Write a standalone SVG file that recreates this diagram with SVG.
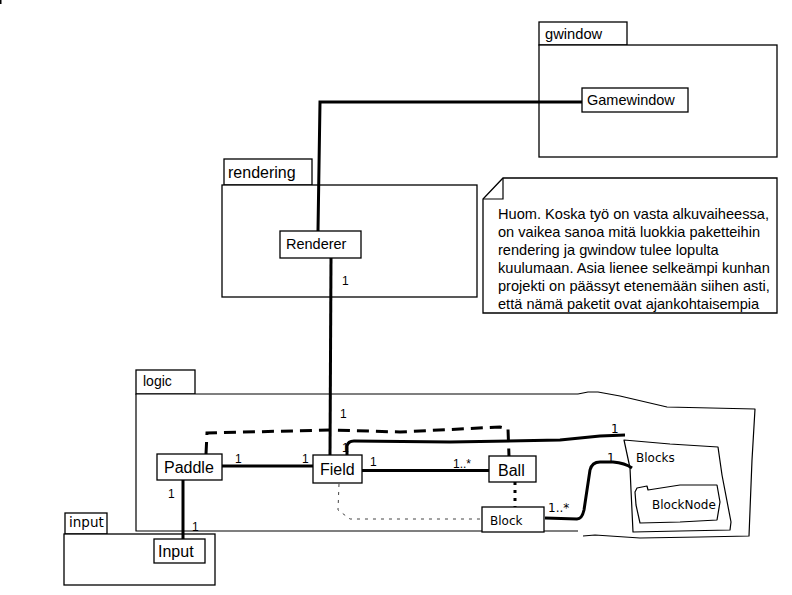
<svg xmlns="http://www.w3.org/2000/svg" width="792" height="595" viewBox="0 0 792 595">
<style>
.pk{fill:#fff;stroke:#000;stroke-width:1.3}
.cls{fill:#fff;stroke:#000;stroke-width:1.3}
.t{font-family:"Liberation Sans",Arial,sans-serif;fill:#000}
.d{font-family:"DejaVu Sans",sans-serif;fill:#000}
.cn{font-size:16px}
.m{font-size:12px}
.ln{fill:none;stroke:#000;stroke-width:3}
.hd{fill:none;stroke:#000;stroke-width:1.2;stroke-linejoin:round}
</style>
<rect x="0" y="0" width="1.5" height="4" fill="#000"/>
<g id="pkg-gwindow">
<rect class="pk" x="539" y="22" width="88" height="23"/>
<rect class="pk" x="539" y="45" width="238" height="112"/>
<text class="t" x="545" y="39" font-size="14.7">gwindow</text>
</g>
<g id="pkg-rendering">
<rect class="pk" x="224" y="159" width="88" height="26"/>
<rect class="pk" x="222" y="185" width="255" height="112"/>
<text class="t" x="228" y="178" font-size="16">rendering</text>
</g>
<g id="note">
<path class="pk" d="M503,178 L777,178 L777,313 L483,313 L483,199 Z"/>
<path fill="none" stroke="#000" stroke-width="1.2" d="M503,178 L503,199 L483,199"/>
<text class="t" font-size="14.6">
<tspan x="498" y="219">Huom. Koska työ on vasta alkuvaiheessa,</tspan>
<tspan x="498" y="237">on vaikea sanoa mitä luokkia paketteihin</tspan>
<tspan x="498" y="255">rendering ja gwindow tulee lopulta</tspan>
<tspan x="498" y="273">kuulumaan. Asia lienee selkeämpi kunhan</tspan>
<tspan x="498" y="291">projekti on päässyt etenemään siihen asti,</tspan>
<tspan x="498" y="309">että nämä paketit ovat ajankohtaisempia</tspan>
</text>
</g>
<g id="pkg-logic">
<rect class="pk" x="136" y="370" width="59" height="24"/>
<path fill="#fff" stroke="none" d="M136,394 L578,394 L578,531 L136,531 Z"/>
<path class="hd" stroke-width="1.3" d="M578,531 L136,531 L136,394 L578,394"/>
<path class="hd" d="M578,394 L588,392 L598,392 L620,396 L667,407 L755,409 L752,460 L749,536 L700,537 L640,538 L595,535 L583,536"/>
<text class="t" x="143" y="386" font-size="14">logic</text>
</g>
<g id="pkg-input">
<rect class="pk" x="65" y="513" width="42" height="21"/>
<rect class="pk" x="64" y="534" width="151" height="51"/>
<text class="d" x="69" y="527" font-size="13.5">input</text>
</g>
<g id="connectors">
<polyline class="ln" points="318,231 320,102 582,102"/>
<line class="ln" x1="331" y1="258" x2="330" y2="455"/>
<line class="ln" x1="222" y1="466" x2="313" y2="466"/>
<line class="ln" x1="362" y1="470.5" x2="489" y2="470.5"/>
<line class="ln" x1="183" y1="480" x2="183" y2="539"/>
<polyline class="ln" stroke-dasharray="12,7" points="206,454 207,433 330,430 400,432 500,427 508,429 509,456"/>
<line class="ln" stroke-dasharray="3,5" x1="515" y1="482" x2="515" y2="507"/>
<polyline fill="none" stroke="#444" stroke-width="1" stroke-dasharray="3,5" points="339,484 338,510 350,519 482,519"/>
<path class="ln" stroke-width="4" stroke-linejoin="round" d="M347,455 L347,446 Q348,441 354,441 L450,442 L560,440 L600,436 L625,435"/>
<path class="ln" stroke-width="4" stroke-linejoin="round" d="M545,518 L577,519 Q582,519 584,510 L590,470 Q592,462 600,462 L613,462 Q625,463 632,468"/>
</g>
<g id="Gamewindow">
<rect class="cls" x="582" y="88" width="106" height="24"/>
<text class="t" x="587" y="105" font-size="14.5">Gamewindow</text>
</g>
<g id="Renderer">
<rect class="cls" x="280" y="231" width="81" height="27"/>
<text class="t" x="286" y="249" font-size="14.5">Renderer</text>
</g>
<g id="Paddle">
<rect class="cls" x="157" y="454" width="65" height="26"/>
<text class="t cn" x="164" y="473">Paddle</text>
</g>
<g id="Field">
<rect class="cls" x="313" y="455" width="49" height="28"/>
<text class="t cn" x="320" y="475">Field</text>
</g>
<g id="Ball">
<rect class="cls" x="489" y="456" width="47" height="26"/>
<text class="t cn" x="498" y="476">Ball</text>
</g>
<g id="Block">
<rect class="cls" x="482" y="507" width="62" height="25"/>
<text class="d" x="490" y="525" font-size="12">Block</text>
</g>
<g id="Input">
<rect class="cls" x="154" y="539" width="51" height="24"/>
<text class="t cn" x="158" y="557">Input</text>
</g>
<g id="Blocks">
<path class="hd" d="M624,440 L670,444 L718,447 L722,475 L731,522 L730,530 L680,531 L633,532 L631,490 L630,468 Z"/>
<text class="d" x="636" y="462" font-size="12">Blocks</text>
</g>
<g id="BlockNode">
<path class="hd" d="M637,488 L647,486 L648,490 L680,485 L717,485 L720,502 L717,520 L680,522 L640,523 L636,505 L635,492 Z"/>
<text class="d" x="652" y="509" font-size="12">BlockNode</text>
</g>
<g id="labels" class="t m">
<text x="342" y="285">1</text>
<text x="340" y="418">1</text>
<text x="342" y="452">1</text>
<text x="235" y="463">1</text>
<text x="302" y="463">1</text>
<text x="370" y="466">1</text>
<text x="453" y="468">1..*</text>
<text x="168" y="498">1</text>
<text x="192" y="531">1</text>
<text class="d" x="611" y="433">1</text>
<text class="d" x="607" y="462">1</text>
<text class="d" x="548" y="512">1..*</text>
</g>
</svg>
